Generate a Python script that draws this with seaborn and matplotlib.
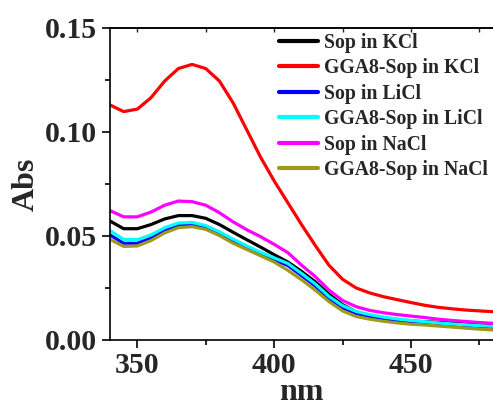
import numpy as np
import pandas as pd
import matplotlib
matplotlib.use("Agg")
import matplotlib.pyplot as plt
from matplotlib.ticker import MultipleLocator
import seaborn as sns

# Wavelength grid (nm)
wavelength = [340, 345, 350, 355, 360, 365, 370, 375, 380, 385, 390, 395, 400, 405, 410,
              415, 420, 425, 430, 435, 440, 445, 450, 455, 460, 465, 470, 475, 480]

series_names = ["Sop in KCl", "GGA8-Sop in KCl", "Sop in LiCl",
                "GGA8-Sop in LiCl", "Sop in NaCl", "GGA8-Sop in NaCl"]

sop_kcl = [0.0572, 0.0535, 0.0535, 0.0555, 0.0582, 0.0598, 0.0598, 0.0585, 0.0555, 0.0518,
           0.0482, 0.0447, 0.0410, 0.0375, 0.0330, 0.0280, 0.0220, 0.0170, 0.0135, 0.0115,
           0.0103, 0.0097, 0.0092, 0.0088, 0.0085, 0.0081, 0.0078, 0.0075, 0.0072]
gga8_kcl = [0.1130, 0.1098, 0.1110, 0.1165, 0.1245, 0.1305, 0.1325, 0.1305, 0.1245, 0.1140,
            0.1010, 0.0880, 0.0765, 0.0660, 0.0555, 0.0455, 0.0360, 0.0292, 0.0250, 0.0226,
            0.0208, 0.0194, 0.0180, 0.0167, 0.0157, 0.0150, 0.0144, 0.0140, 0.0136]
sop_licl = [0.0505, 0.0465, 0.0465, 0.0490, 0.0525, 0.0550, 0.0553, 0.0540, 0.0510, 0.0475,
            0.0445, 0.0415, 0.0385, 0.0358, 0.0310, 0.0260, 0.0200, 0.0155, 0.0127, 0.0113,
            0.0102, 0.0094, 0.0089, 0.0085, 0.0080, 0.0075, 0.0070, 0.0066, 0.0062]
gga8_licl = [0.0526, 0.0483, 0.0482, 0.0505, 0.0540, 0.0562, 0.0565, 0.0550, 0.0520, 0.0485,
             0.0452, 0.0422, 0.0395, 0.0368, 0.0320, 0.0270, 0.0210, 0.0165, 0.0137, 0.0122,
             0.0110, 0.0101, 0.0094, 0.0088, 0.0082, 0.0077, 0.0073, 0.0069, 0.0066]
sop_nacl = [0.0622, 0.0592, 0.0592, 0.0615, 0.0648, 0.0668, 0.0665, 0.0648, 0.0612, 0.0568,
            0.0530, 0.0497, 0.0460, 0.0420, 0.0360, 0.0305, 0.0240, 0.0190, 0.0160, 0.0142,
            0.0131, 0.0122, 0.0115, 0.0108, 0.0100, 0.0094, 0.0089, 0.0084, 0.0080]
gga8_nacl = [0.0484, 0.0450, 0.0452, 0.0478, 0.0515, 0.0540, 0.0545, 0.0532, 0.0502, 0.0465,
             0.0435, 0.0405, 0.0375, 0.0335, 0.0290, 0.0240, 0.0185, 0.0140, 0.0113, 0.0100,
             0.0090, 0.0082, 0.0076, 0.0072, 0.0067, 0.0062, 0.0057, 0.0052, 0.0048]

colors = ["#000000", "#FF0000", "#0000FF", "#00FFFF", "#FF00FF", "#9E9A1E"]

values = [sop_kcl, gga8_kcl, sop_licl, gga8_licl, sop_nacl, gga8_nacl]
df = pd.concat(
    [pd.DataFrame({"nm": wavelength, "Abs": v, "sample": name})
     for name, v in zip(series_names, values)],
    ignore_index=True,
)

sns.set_theme(style="ticks")
plt.rcParams["font.family"] = ["Liberation Serif", "DejaVu Serif"]
plt.rcParams["font.weight"] = "bold"
plt.rcParams["axes.labelweight"] = "bold"

fig = plt.figure(figsize=(4.93, 4.08), dpi=100)
ax = fig.add_axes([0.2231, 0.1667, 0.7769, 0.7647])

sns.lineplot(data=df, x="nm", y="Abs", hue="sample", hue_order=series_names,
             palette=colors, linewidth=2.3, ax=ax)
for ln in ax.get_lines():
    ln.set_solid_joinstyle("round")

ax.set_xlim(340, 480)
ax.set_ylim(0, 0.15)
ax.xaxis.set_major_locator(MultipleLocator(50))
ax.xaxis.set_minor_locator(MultipleLocator(25))
ax.yaxis.set_major_locator(MultipleLocator(0.05))
ax.yaxis.set_minor_locator(MultipleLocator(0.025))
ax.yaxis.set_major_formatter(matplotlib.ticker.FormatStrFormatter("%.2f"))

for side in ["left", "bottom", "top"]:
    ax.spines[side].set_linewidth(1.2)
    ax.spines[side].set_color("black")
ax.spines["right"].set_visible(False)

ax.tick_params(which="major", direction="out", length=6, width=1.2,
               labelsize=21.5, color="black", pad=3)
ax.tick_params(which="minor", direction="out", length=3.5, width=1.2, color="black")

top = ax.secondary_xaxis("top")
top.xaxis.set_major_locator(MultipleLocator(50))
top.xaxis.set_minor_locator(MultipleLocator(25))
top.tick_params(which="both", direction="in", length=3, width=1.0, labeltop=False)
top.spines["top"].set_linewidth(1.2)

for lbl in ax.get_xticklabels() + ax.get_yticklabels():
    lbl.set_fontweight("bold")

ax.set_xlabel("nm", fontsize=23, fontweight="bold", labelpad=-1)
ax.set_ylabel("Abs", fontsize=23, fontweight="bold", labelpad=3)

leg = ax.legend(loc="upper left", bbox_to_anchor=(0.44, 0.985), frameon=False,
                fontsize=14.2, handlelength=2.0, handletextpad=0.3,
                labelspacing=0.28, borderpad=0, borderaxespad=0)
for t in leg.get_texts():
    t.set_fontweight("bold")
for h in leg.get_lines():
    h.set_linewidth(3.0)

fig.savefig("out.png", dpi=100)
